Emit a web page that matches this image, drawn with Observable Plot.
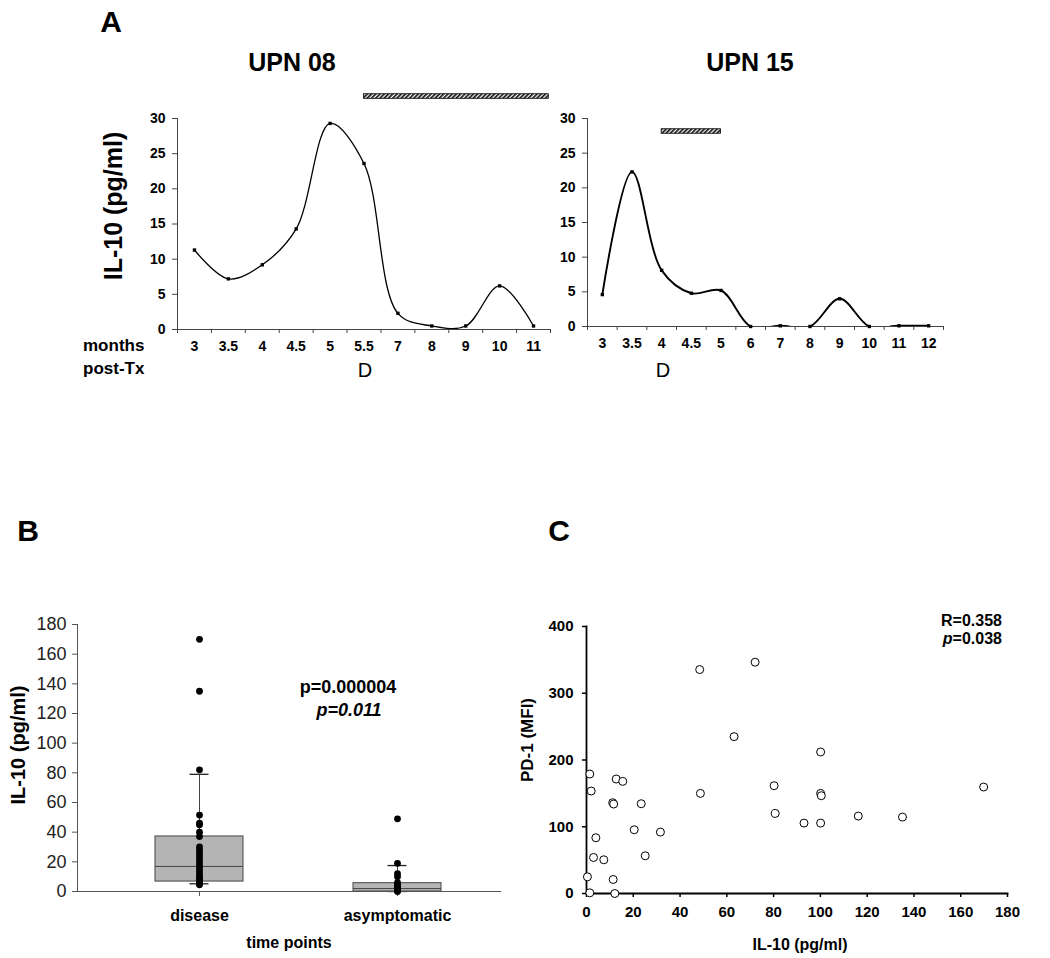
<!DOCTYPE html>
<html><head><meta charset="utf-8">
<script src="https://cdn.jsdelivr.net/npm/d3@7"></script>
<script src="https://cdn.jsdelivr.net/npm/@observablehq/plot@0.6"></script>
<style>
body{margin:0;background:#fff;font-family:"Liberation Sans",Arial,sans-serif;}
#root{position:relative;width:1050px;height:958px;overflow:hidden;background:#fff;}
.abs{position:absolute;}
.t{position:absolute;transform:translate(-50%,-50%);white-space:nowrap;font-weight:bold;color:#000;line-height:1;}
.r{position:absolute;transform:translate(-100%,-50%);white-space:nowrap;font-weight:bold;color:#000;line-height:1;}
.l{position:absolute;transform:translate(0,-50%);white-space:nowrap;font-weight:bold;color:#000;line-height:1;}
.rot{transform:translate(-50%,-50%) rotate(-90deg);}
</style></head><body>
<svg width="0" height="0" style="position:absolute"><defs>
<pattern id="hatch" width="3" height="3" patternUnits="userSpaceOnUse" patternTransform="rotate(45)">
<rect width="3" height="3" fill="#fff"/><line x1="0.8" y1="0" x2="0.8" y2="3" stroke="#111" stroke-width="1.8"/></pattern>
</defs></svg>
<div id="root"></div>
<script>
// ---------- Panel A data ----------
const upn08Months = ["3","3.5","4","4.5","5","5.5","7","8","9","10","11"];
const upn08IL10 = [11.3, 7.2, 9.2, 14.3, 29.3, 23.6, 2.3, 0.5, 0.5, 6.2, 0.5];
const upn08Treatment = [5, 10.45];      // band positions (category index)
const upn08TreatmentLevel = [32.8, 33.45];
const upn15Months = ["3","3.5","4","4.5","5","6","7","8","9","10","11","12"];
const upn15IL10 = [4.6, 22.3, 8.1, 4.8, 5.2, 0, 0.1, 0, 4.0, 0, 0.1, 0.1];
const upn15Treatment = [2, 4];
const upn15TreatmentLevel = [27.8, 28.45];
const aYTicks = [0, 5, 10, 15, 20, 25, 30];

// ---------- Panel B data ----------
const groups = ["disease", "asymptomatic"];
const boxQ1 = [6.7, 0];
const boxMedian = [16.9, 2.0];
const boxQ3 = [37.1, 5.6];
const whiskerLow = [5.2, 0];
const whiskerHigh = [79, 17.5];
const diseaseIL10 = [170, 135, 82, 51.5, 46, 45, 40, 37, 30, 28, 26, 24, 22, 20, 18, 16, 14, 12, 10, 9, 8, 7, 6, 5, 4.5];
const asymptomaticIL10 = [49, 19, 12, 10, 6, 5, 4, 3, 2, 1, 0.5, 0];
const bYTicks = [0, 20, 40, 60, 80, 100, 120, 140, 160, 180];

// ---------- Panel C data ----------
const cIL10 = [1.4, 2.0, 4.0, 3.0, 7.4, 0.4, 1.4, 11.4, 12.1, 11.2, 11.6, 12.7, 15.5, 20.4, 23.4, 25.1, 31.6, 48.4, 48.7, 63.1, 72.1, 80.2, 80.7, 93.0, 100.1, 100.1, 100.4, 100.1, 116.2, 135.1, 169.8];
const cPD1 = [179, 153.5, 83.5, 54, 50.5, 25, 1, 21, 0, 136, 134, 171.5, 168, 95.5, 134.5, 56.5, 92, 335.5, 150, 235, 346.5, 161.5, 120, 105.5, 212, 150, 146.5, 105.5, 116, 114.5, 159.5];
const cXTicks = [0, 20, 40, 60, 80, 100, 120, 140, 160, 180];
const cYTicks = [0, 100, 200, 300, 400];

const FONT = "Liberation Sans, Arial, sans-serif";
const root = document.getElementById("root");
function place(node, left, top) {
  const d = document.createElement("div");
  d.className = "abs"; d.style.left = left + "px"; d.style.top = top + "px";
  d.appendChild(node); root.appendChild(d);
}
function txt(cls, s, x, y, size, extra) {
  const d = document.createElement("div");
  d.className = cls; d.style.left = x + "px"; d.style.top = y + "px";
  d.style.fontSize = size + "px";
  if (extra) Object.assign(d.style, extra);
  d.innerHTML = s; root.appendChild(d);
}

function linePanel(months, vals, bar, barLevel, o) {
  const n = months.length;
  const data = months.map((m, i) => ({i, m, v: vals[i]}));
  return Plot.plot({
    width: o.width, height: o.height,
    marginLeft: o.ml, marginRight: o.mr, marginTop: o.mt, marginBottom: o.mb,
    style: {fontFamily: FONT, fontSize: "14px", fontWeight: "bold", color: "#000", background: "transparent", overflow: "visible"},
    x: {type: "linear", domain: [-0.5, n - 0.5]},
    y: {domain: [0, 30]},
    marks: [
      Plot.rect([bar], {x1: d => d[0], x2: d => d[1], y1: () => barLevel[0], y2: () => barLevel[1], fill: "url(#hatch)", stroke: "#000", strokeWidth: 0.8}),
      Plot.axisY({ticks: aYTicks, tickSize: 5, tickPadding: 7, label: null, stroke: "#444"}),
      Plot.axisX({ticks: d3.range(n), tickSize: 0, tickPadding: 12, tickFormat: i => months[i], label: null}),
      Plot.axisX({ticks: d3.range(n + 1).map(i => i - 0.5), tickSize: 4, tickFormat: () => "", label: null, stroke: "#444"}),
      Plot.frame({anchor: "left", stroke: "#444"}),
      Plot.frame({anchor: "bottom", stroke: "#444"}),
      Plot.line(data, {x: "i", y: "v", curve: "catmull-rom", stroke: "#000", strokeWidth: o.sw, clip: true}),
      Plot.dot(data, {x: "i", y: "v", symbol: "square", r: 1.9, fill: "#000"})
    ]
  });
}

place(linePanel(upn08Months, upn08IL10, upn08Treatment, upn08TreatmentLevel,
  {width: 470, height: 300, ml: 77, mr: 20, mt: 38, mb: 51, sw: 1.3}), 100, 80);
place(linePanel(upn15Months, upn15IL10, upn15Treatment, upn15TreatmentLevel,
  {width: 420, height: 300, ml: 47, mr: 17, mt: 38, mb: 54, sw: 1.9}), 540, 80);

// ---------- Panel B ----------
const summary = groups.map((g, k) => ({g, q1: boxQ1[k], med: boxMedian[k], q3: boxQ3[k], lo: whiskerLow[k], hi: whiskerHigh[k]}));
const bPoints = [
  ...diseaseIL10.map(v => ({g: groups[0], v})),
  ...asymptomaticIL10.map(v => ({g: groups[1], v}))
];
const bPlot = Plot.plot({
  width: 520, height: 378, marginLeft: 77, marginRight: 20, marginTop: 44, marginBottom: 67,
  style: {fontFamily: FONT, fontSize: "18px", color: "#222", background: "transparent", overflow: "visible"},
  x: {type: "band", domain: groups, paddingInner: 0.556, paddingOuter: 0.346, align: 0.569},
  y: {domain: [0, 180]},
  marks: [
    Plot.axisY({ticks: bYTicks, tickSize: 5, tickPadding: 6, label: null, stroke: "#555"}),
    Plot.axisX({tickSize: 5, tickPadding: 13, label: null, fontWeight: "bold", fontSize: 16, fill: "#000", stroke: "#555"}),
    Plot.ruleX(summary, {x: "g", y1: "q3", y2: "hi", stroke: "#444"}),
    Plot.ruleX(summary, {x: "g", y1: "lo", y2: "q1", stroke: "#444"}),
    Plot.tickY(summary, {x: "g", y: "hi", stroke: "#222", strokeWidth: 1.3, insetLeft: 34.5, insetRight: 34.5}),
    Plot.tickY(summary, {x: "g", y: "lo", stroke: "#222", strokeWidth: 1.3, insetLeft: 34.5, insetRight: 34.5}),
    Plot.barY(summary, {x: "g", y1: "q1", y2: "q3", fill: "#b4b4b4", stroke: "#444", strokeWidth: 1}),
    Plot.tickY(summary, {x: "g", y: "med", stroke: "#444", strokeWidth: 1}),
    Plot.frame({anchor: "left", stroke: "#555"}),
    Plot.frame({anchor: "bottom", stroke: "#555"}),
    Plot.dot(bPoints, {x: "g", y: "v", r: 3.4, fill: "#000"})
  ]
});
place(bPlot, 0, 580);

// ---------- Panel C ----------
const cData = cIL10.map((x, k) => ({x, y: cPD1[k]}));
const cPlot = Plot.plot({
  width: 530, height: 378, marginLeft: 66, marginRight: 43, marginTop: 46, marginBottom: 65,
  style: {fontFamily: FONT, fontSize: "15px", fontWeight: "bold", color: "#000", background: "transparent", overflow: "visible"},
  x: {domain: [0, 180]},
  y: {domain: [0, 400]},
  marks: [
    Plot.axisY({ticks: cYTicks, tickSize: 4, tickPadding: 9, label: null, strokeWidth: 1.5}),
    Plot.axisX({ticks: cXTicks, tickSize: 4, tickPadding: 9, label: null, strokeWidth: 1.5}),
    Plot.frame({anchor: "left", stroke: "#000", strokeWidth: 1.8}),
    Plot.frame({anchor: "bottom", stroke: "#000", strokeWidth: 1.8}),
    Plot.dot(cData, {x: "x", y: "y", r: 4, fill: "#fff", stroke: "#000", strokeWidth: 1})
  ]
});
place(cPlot, 520, 580);

// ---------- Text ----------
txt("t", "A", 111, 22, 30);
txt("t", "UPN 08", 292, 62, 25);
txt("t", "UPN 15", 750, 62, 25);
txt("t rot", "IL-10 (pg/ml)", 113, 206, 25);
txt("l", "months", 83, 345, 17);
txt("l", "post-Tx", 83, 368, 17);
txt("t", "D", 365, 370, 20, {fontWeight: "normal"});
txt("t", "D", 663, 370, 20, {fontWeight: "normal"});

txt("t", "B", 28, 531, 30);
txt("t rot", "IL-10 (pg/ml)", 18, 745, 20);
txt("t", "p=0.000004", 348, 687, 18);
txt("t", "p=0.011", 349, 710, 18, {fontStyle: "italic"});
txt("t", "time points", 289, 943, 16);

txt("t", "C", 559, 531, 30);
txt("t rot", "PD-1 (MFI)", 527, 740, 17);
txt("t", "IL-10 (pg/ml)", 800, 945, 16);
txt("r", "R=0.358", 1002, 621, 16);
txt("r", "<i>p</i>=0.038", 1002, 639, 16);
</script>
</body></html>
